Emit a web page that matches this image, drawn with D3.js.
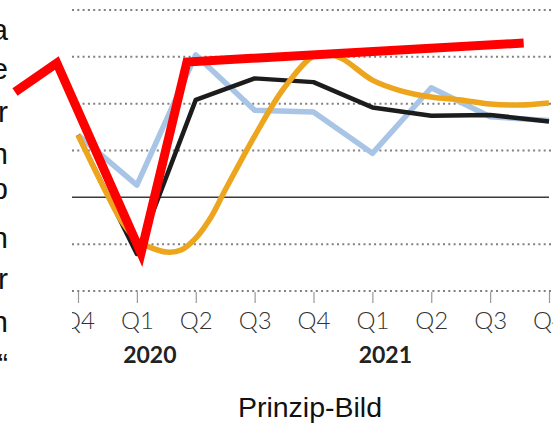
<!DOCTYPE html>
<html><head><meta charset="utf-8">
<script src="https://cdn.jsdelivr.net/npm/d3@7"></script>
<style>html,body{margin:0;padding:0;background:#fff;overflow:hidden}</style>
</head><body>
<svg id="c" width="553" height="423"></svg>
<script>
// Quarters (index 0 = Q4 2019)
const quarters = ["Q4","Q1","Q2","Q3","Q4","Q1","Q2","Q3","Q4"];
const years = [{label:"2020", at:1}, {label:"2021", at:5}];
const gridValues = [-10, -5, 5, 10, 15, 20];

const blackValues = [6.65, -6.05, 10.4, 12.7, 12.3, 9.6, 8.7, 8.8, 8.1];
const blueValues  = [6.65, 1.3, 15.2, 9.3, 9.1, 4.7, 11.7, 8.6, 8.2];
const orangeX = [0, 0.5, 0.75, 1, 1.25, 1.5, 1.75, 2, 2.25, 2.5, 3, 3.5, 4, 4.25, 4.5, 5, 5.5, 6, 6.5, 7, 7.5, 8];
const orangeValues = [6.65, 0.25, -2.64, -4.56, -5.4, -5.84, -5.63, -4.35, -2.2, 0.78, 6.54, 11.67, 15.09, 15.3, 14.76, 12.52, 11.35, 10.71, 10.39, 9.96, 9.85, 10.07];
const redX = [-1.07, -0.36, 1.07, 1.85, 7.57];
const redValues = [11.24, 14.34, -5.95, 14.45, 16.47];
const sideLetters = ["a","e","r","n","p","n","r","n","\u201C"];
const sideBaselines = [40, 79, 122, 164, 199, 248, 289, 332, 374];

const svg = d3.select("#c");
const x = d3.scaleLinear().domain([0, 8]).range([78, 549]);
const y = d3.scaleLinear().domain([-10, 20]).range([291, 10]);

svg.append("defs").append("clipPath").attr("id","clip")
  .append("rect").attr("x",72).attr("y",0).attr("width",481).attr("height",423);

const plot = svg.append("g").attr("clip-path","url(#clip)");

// dotted grid
plot.selectAll("line.grid").data(gridValues).enter().append("line")
  .attr("x1",72).attr("x2",551)
  .attr("y1",d=>y(d)).attr("y2",d=>y(d))
  .attr("stroke","#808080").attr("stroke-width",2).attr("stroke-dasharray","2,3.3");
// zero line
plot.append("line").attr("x1",72).attr("x2",549).attr("y1",y(0)).attr("y2",y(0))
  .attr("stroke","#3a3a3a").attr("stroke-width",1.5);

// x axis ticks & labels
const xAxis = d3.axisBottom(x).tickValues(d3.range(quarters.length))
  .tickFormat(i=>quarters[i]).tickSize(11).tickPadding(9);
const ax = plot.append("g").attr("transform",`translate(0,${y(-10)+1})`).call(xAxis);
ax.select(".domain").remove();
ax.selectAll(".tick line").attr("stroke","#999").attr("stroke-width",1.2);
ax.selectAll(".tick text").attr("fill","#333")
  .style("font-family","Lato, 'Open Sans', sans-serif").style("font-weight","300").style("font-size","24px");

plot.selectAll("text.year").data(years).enter().append("text")
  .attr("x",d=>x(d.at)+13).attr("y",363).attr("text-anchor","middle")
  .style("font-family","Lato, sans-serif").style("font-weight","700").style("font-size","23px")
  .attr("fill","#222").text(d=>d.label);

// series lines
const line = d3.line().x(d=>x(d[0])).y(d=>y(d[1]));
const blueData = blueValues.map((v,i)=>[i,v]);
const blackData = blackValues.map((v,i)=>[i,v]);
const orangeData = orangeX.map((xi,i)=>[xi, orangeValues[i]]);

plot.append("path").datum(blueData).attr("d",line)
  .attr("fill","none").attr("stroke","#a8c5e6").attr("stroke-width",5.5).attr("stroke-linejoin","round");
plot.append("path").datum(blackData).attr("d",line)
  .attr("fill","none").attr("stroke","#1c1c1c").attr("stroke-width",4.5).attr("stroke-linejoin","round");
plot.append("path").datum(orangeData).attr("d",d3.line().x(d=>x(d[0])).y(d=>y(d[1])).curve(d3.curveCatmullRom))
  .attr("fill","none").attr("stroke","#eea51e").attr("stroke-width",5.5);

// red overlay (not clipped)
const redLine = d3.line().x(d=>x(d[0])).y(d=>y(d[1]));
svg.append("path").datum(redX.map((xi,i)=>[xi, redValues[i]])).attr("d",redLine)
  .attr("fill","none").attr("stroke","#ff0000").attr("stroke-width",9).attr("stroke-linejoin","miter");

// clipped text from neighbouring column
svg.selectAll("text.side").data(sideLetters).enter().append("text")
  .attr("x",8).attr("y",(d,i)=>sideBaselines[i]).attr("text-anchor","end")
  .style("font-family","'Liberation Sans', Arial, sans-serif").style("font-size","30px")
  .attr("fill","#111").text(d=>d);

// caption
svg.append("text").attr("x",310).attr("y",417).attr("text-anchor","middle")
  .style("font-family","'Liberation Sans', Arial, sans-serif").style("font-size","28.5px")
  .attr("fill","#111").text("Prinzip-Bild");
</script>
</body></html>
